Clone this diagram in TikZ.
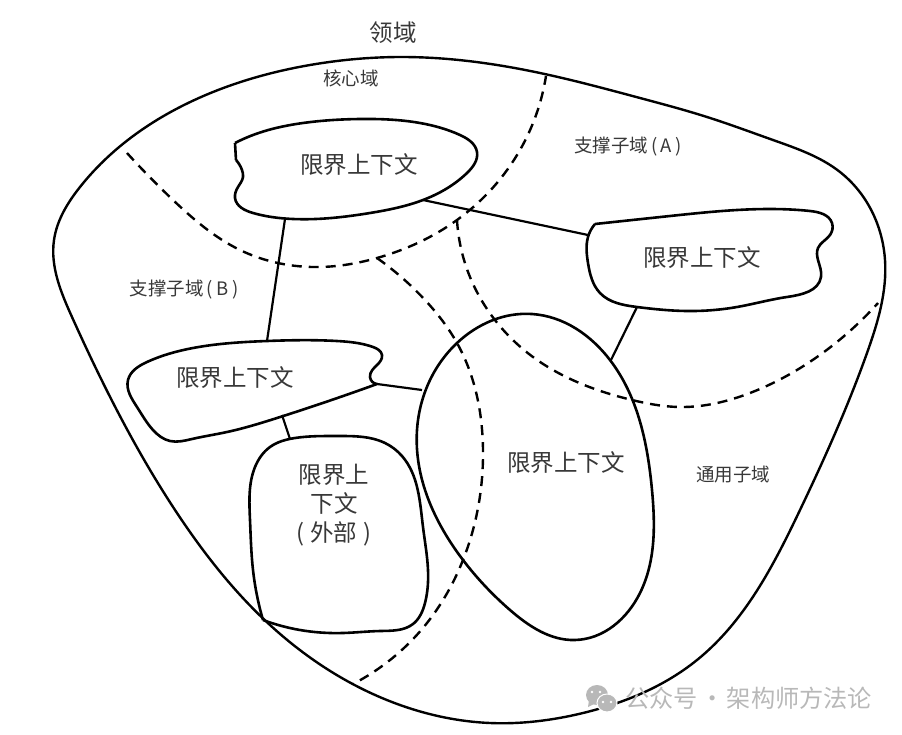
\documentclass[tikz,border=0pt]{standalone}
\usepackage{fontspec}
\setmainfont{Noto Sans CJK SC}
\usetikzlibrary{positioning,hobby}

\definecolor{LabelText}{gray}{0.22}
\definecolor{MarkGray}{gray}{0.72}

\tikzset{
Domain/.style={draw=black,line width=2.4pt,line join=round,use Hobby shortcut},
Boundary/.style={draw=black,line width=2.4pt,dash pattern=on 10pt off 7pt,use Hobby shortcut},
Context/.style={draw=black,line width=2.6pt,line join=round,use Hobby shortcut},
ContextLine/.style={draw=black,line width=2.2pt},
ContextText/.style={text=LabelText,font=\fontsize{23.5}{29}\selectfont,align=center,inner sep=0pt},
SubText/.style={text=LabelText,font=\fontsize{18.5}{22}\selectfont,inner sep=0pt},
MarkText/.style={text=MarkGray,font=\fontsize{24.2}{28}\selectfont,inner sep=0pt},
}

\begin{document}
\begin{tikzpicture}[x=1pt,y=-1pt]
	\useasboundingbox (0,0) rectangle (902,734);

	% outer domain
	\draw[Domain,closed=true] (400,57) .. (540,73) .. (640,98) .. (707,117) .. (773,140) .. (840,172) .. (885,260) .. (867,353) .. (800,510) .. (697,660) .. (583,713) .. (490,723) .. (400,705) .. (270,625) .. (177,513) .. (72,317) .. (54,240) .. (80,187) .. (213,92) .. (310,65);

	% subdomain boundaries
	\draw[Boundary] (127,153) .. (173,200) .. (240,250) .. (320,267) .. (377,258) .. (457,220) .. (520,150) .. (546,76);
	\draw[Boundary] (377,258) .. (425,300) .. (457,343) .. (483,450) .. (463,560) .. (427,623) .. (353,684);
	\draw[Boundary] (457,220) .. (470,277) .. (533,357) .. (632,400) .. (680,407) .. (750,393) .. (817,357) .. (878,303);

	% bounded contexts
	\draw[Context] (235,143) .. (253,135) .. (303,123) .. (360,119) .. (420,123) .. (460,135) .. (477,152) .. (467,173) .. (423,200) .. (370,213) .. (293,219) .. (253,213) .. (235,198) .. (238,187) .. (243,177) .. (242,170) .. (236,160);
	\draw[Context] (236,160) -- (235,143);
	\draw[Context] (595,224) .. (670,216) .. (770,209) .. (810,211) .. (832,223) .. (830,235) .. (818,248) .. (818,260) .. (821,277) .. (787,297) .. (737,307) .. (687,311) .. (637,307) .. (600,293) .. (588,263) .. (588,237) .. (595,224);
	\draw[Context] (377,384) .. (277,418) .. (227,432) .. (192,439) .. (170,441) .. (153,430) .. (137,407) .. (128,380) .. (147,362) .. (193,348) .. (267,341) .. (337,341) .. (373,347) .. (382,355) .. (377,365) .. (370,377) .. (377,384);
	\draw[Context] (263,620) .. (253,570) .. (250,520) .. (255,467) .. (270,447) .. (295,438) .. (337,436) .. (385,443) .. (402,456) .. (423,527) .. (428,570) .. (425,603) .. (413,624) .. (380,631) .. (343,633) .. (300,630) .. (263,620);
	\draw[Context,closed=true] (532,314) .. (610,360) .. (652,490) .. (640,593) .. (575,640) .. (510,610) .. (463,560) .. (417,430) .. (457,343);

	% link ends
	\coordinate (TopS) at (285,219);
	\coordinate (TopE) at (423,200);
	\coordinate (RightW) at (588,235);
	\coordinate (RightS) at (637,307);
	\coordinate (LeftN) at (267,341);
	\coordinate (LeftE) at (377,384);
	\coordinate (LeftS) at (282,415);
	\coordinate (ExtN) at (290,439);
	\coordinate (BigW) at (422,390);
	\coordinate (BigN) at (611,360);

	\draw[ContextLine] (TopS) -- (LeftN);
	\draw[ContextLine] (TopE) -- (RightW);
	\draw[ContextLine] (RightS) -- (BigN);
	\draw[ContextLine] (LeftE) -- (BigW);
	\draw[ContextLine] (LeftS) -- (ExtN);

	% texts
	\node[ContextText] (DomainTitle) at (393,33) {领域};
	\node[SubText] (CoreText) at (351,78) {核心域};
	\node[SubText] (SupportA) at (628,147) {支撑子域\kern3pt(\kern3.5pt A\kern3.5pt)};
	\node[SubText] (SupportB) at (184,290) {支撑子域\kern3pt(\kern3.5pt B\kern3.5pt)};
	\node[SubText] (GenericText) at (733,475) {通用子域};
	\node[ContextText] (TopText) at (359,165) {限界上下文};
	\node[ContextText] (RightText) at (702,258) {限界上下文};
	\node[ContextText] (LeftText) at (235,378) {限界上下文};
	\node[ContextText] (BigText) at (566,463) {限界上下文};
	\node[ContextText] (ExtText) at (334,505) {限界上\\下文\\(\kern6pt 外部\kern6pt)};

	% watermark
	\fill[MarkGray] (597,695) ellipse (11pt and 10pt);
	\fill[MarkGray] (589,700) -- (588,707) -- (596,703) -- cycle;
	\fill[MarkGray,draw=white,line width=1pt] (607,703) ellipse (10pt and 9pt);
	\foreach \x/\y in {592/692,600/692,603/702,611/702}
		\fill[white] (\x,\y) circle (1.4pt);
	\node[MarkText,anchor=west] (MarkLabel) at (625,698) {公众号\kern2.5pt·\kern2.5pt架构师方法论};
\end{tikzpicture}
\end{document}
